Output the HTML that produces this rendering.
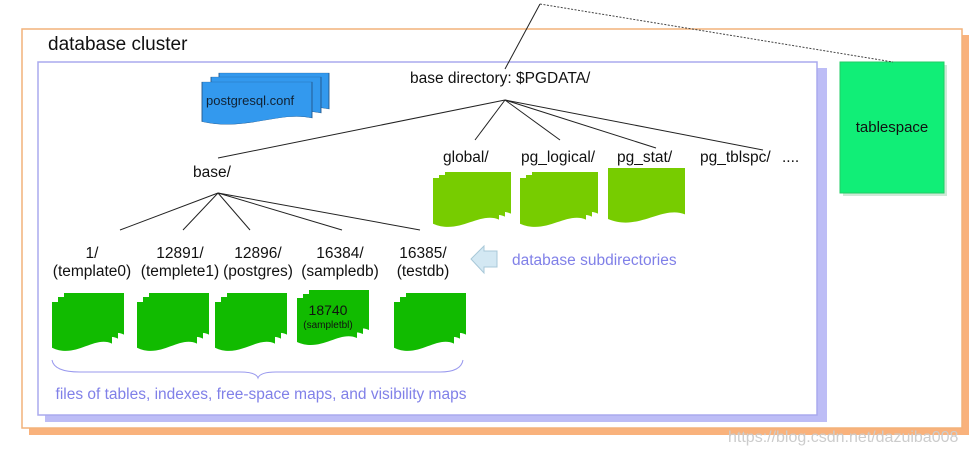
<!DOCTYPE html>
<html><head><meta charset="utf-8"><style>
html,body{margin:0;padding:0;background:#fff;}
svg{display:block;font-family:"Liberation Sans",sans-serif;}
</style></head><body>
<svg width="979" height="453" viewBox="0 0 979 453" xmlns="http://www.w3.org/2000/svg">
<defs>
<path id="d" d="M0 0H100V80C70 64 40 110 0 88Z"/>
</defs>
<!-- outer cluster -->
<rect x="29" y="35" width="940" height="400" fill="#f9b27c"/>
<rect x="22" y="29" width="940" height="399" fill="#fff" stroke="#f2b27a" stroke-width="1.5"/>
<text x="48" y="50" font-size="19" fill="#111">database cluster</text>
<!-- inner box -->
<rect x="45" y="68" width="782" height="354" fill="#bdbdf6"/>
<rect x="38" y="62" width="779" height="353" fill="#fff" stroke="#aaaaee" stroke-width="1.5"/>
<!-- tablespace -->
<rect x="843" y="65" width="104" height="131" fill="#cfe9d7"/>
<rect x="840" y="62" width="104" height="131" fill="#11ee77" stroke="#22cc66"/>
<text x="892" y="132" font-size="15" text-anchor="middle" fill="#111">tablespace</text>
<!-- top lines -->
<line x1="540" y1="4" x2="505" y2="69" stroke="#222" stroke-width="1"/>
<line x1="540" y1="4" x2="893" y2="62" stroke="#444" stroke-width="1" stroke-dasharray="2,1.5"/>
<text x="410" y="83" font-size="15.5" fill="#111">base directory: $PGDATA/</text>
<!-- postgresql.conf -->
<g stroke="#225588" stroke-width="0.8" fill="#3399ee">
<use href="#d" transform="translate(219,73) scale(1.1,0.45)"/>
<use href="#d" transform="translate(211,77) scale(1.1,0.45)"/>
<use href="#d" transform="translate(202,82) scale(1.1,0.45)"/>
</g>
<text x="206" y="105" font-size="13" fill="#123">postgresql.conf</text>
<!-- lines from base dir -->
<g stroke="#222" stroke-width="1">
<line x1="505" y1="100" x2="218" y2="158"/>
<line x1="505" y1="100" x2="475" y2="140"/>
<line x1="505" y1="100" x2="560" y2="140"/>
<line x1="505" y1="100" x2="656" y2="148"/>
<line x1="505" y1="100" x2="763" y2="150"/>
</g>
<g font-size="15.5" fill="#111">
<text x="443" y="162">global/</text>
<text x="521" y="162">pg_logical/</text>
<text x="617" y="162">pg_stat/</text>
<text x="700" y="162">pg_tblspc/</text>
<text x="782" y="162">....</text>
<text x="193" y="177">base/</text>
</g>
<!-- global/pg_logical docs -->
<g fill="#77cc00">
<use href="#d" transform="translate(445,172) scale(0.66,0.52)"/>
<use href="#d" transform="translate(439,175) scale(0.66,0.52)"/>
<use href="#d" transform="translate(433,178) scale(0.66,0.52)"/>
<use href="#d" transform="translate(532,172) scale(0.66,0.52)"/>
<use href="#d" transform="translate(526,175) scale(0.66,0.52)"/>
<use href="#d" transform="translate(520,178) scale(0.66,0.52)"/>
<use href="#d" transform="translate(608,168) scale(0.77,0.58)"/>
</g>
<!-- base children lines -->
<g stroke="#222" stroke-width="1">
<line x1="218" y1="193" x2="120" y2="230"/>
<line x1="218" y1="193" x2="183" y2="230"/>
<line x1="218" y1="193" x2="250" y2="230"/>
<line x1="218" y1="193" x2="342" y2="230"/>
<line x1="218" y1="193" x2="420" y2="230"/>
</g>
<g font-size="15.5" fill="#111" text-anchor="middle">
<text x="92" y="258">1/</text><text x="92" y="276">(template0)</text>
<text x="180" y="258">12891/</text><text x="180" y="276">(templete1)</text>
<text x="258" y="258">12896/</text><text x="258" y="276">(postgres)</text>
<text x="340" y="258">16384/</text><text x="340" y="276">(sampledb)</text>
<text x="423" y="258">16385/</text><text x="423" y="276">(testdb)</text>
</g>
<!-- db docs -->
<g fill="#11bb00">
<use href="#d" transform="translate(64,293) scale(0.6,0.52)"/>
<use href="#d" transform="translate(58,297) scale(0.6,0.52)"/>
<use href="#d" transform="translate(52,302) scale(0.6,0.52)"/>
<use href="#d" transform="translate(149,293) scale(0.6,0.52)"/>
<use href="#d" transform="translate(143,297) scale(0.6,0.52)"/>
<use href="#d" transform="translate(137,302) scale(0.6,0.52)"/>
<use href="#d" transform="translate(227,293) scale(0.6,0.52)"/>
<use href="#d" transform="translate(221,297) scale(0.6,0.52)"/>
<use href="#d" transform="translate(215,302) scale(0.6,0.52)"/>
<use href="#d" transform="translate(309,290) scale(0.6,0.5)"/>
<use href="#d" transform="translate(303,294) scale(0.6,0.5)"/>
<use href="#d" transform="translate(297,298) scale(0.6,0.5)"/>
<use href="#d" transform="translate(406,293) scale(0.6,0.52)"/>
<use href="#d" transform="translate(400,297) scale(0.6,0.52)"/>
<use href="#d" transform="translate(394,302) scale(0.6,0.52)"/>
</g>
<text x="328" y="315" font-size="14" fill="#111" text-anchor="middle">18740</text>
<text x="328" y="328" font-size="10" fill="#111" text-anchor="middle">(sampletbl)</text>
<!-- brace -->
<path d="M52 360 Q54 372 80 372 H240 Q256 372 258 378 Q260 372 276 372 H440 Q461 372 463 360" fill="none" stroke="#9999ee" stroke-width="1"/>
<text x="261" y="399" font-size="15.5" fill="#8080e8" text-anchor="middle">files of tables, indexes, free-space maps, and visibility maps</text>
<!-- arrow -->
<path d="M497 251 H484 V246 L471 259 L484 273 V267 H497 Z" fill="#d3e8f3" stroke="#a8c8d8"/>
<text x="512" y="265" font-size="15.5" fill="#8080e8">database subdirectories</text>
<text x="728" y="442" font-size="16" fill="#ccc">https://blog.csdn.net/dazuiba008</text>
</svg>
</body></html>
